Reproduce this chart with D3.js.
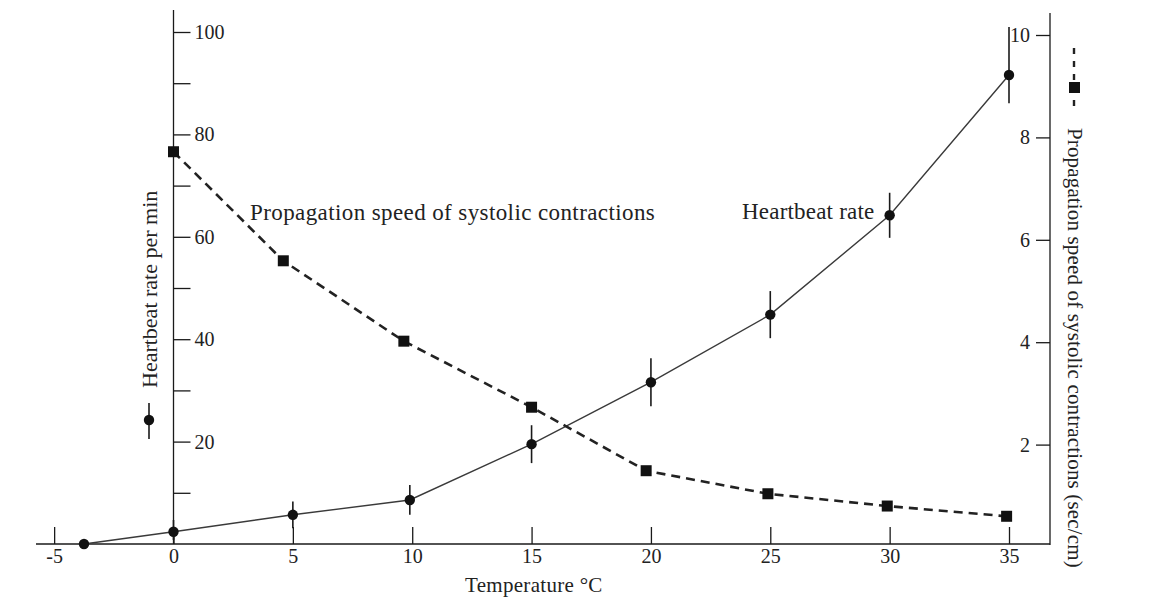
<!DOCTYPE html>
<html><head><meta charset="utf-8">
<script src="https://cdn.jsdelivr.net/npm/d3@7"></script>
<style>body{margin:0;background:#fff}svg{display:block}text{font-family:"Liberation Serif","Times New Roman",serif;fill:#222}</style>
</head><body><svg id="c" width="1161" height="602"></svg>
<script>
// ---- data ----
const hrTemp = [-3.75, 0, 5, 9.9, 15, 20, 25, 30, 35];
const hrRate = [0, 2.4, 5.7, 8.6, 19.5, 31.6, 44.8, 64.2, 91.6];
const hrErrLow = [0, 1.6, 2.6, 2.9, 3.7, 4.7, 4.6, 4.4, 5.5];
const hrErrHigh = [0, 2.3, 2.6, 2.9, 3.7, 4.7, 4.6, 4.4, 9.4];
const psTemp = [0, 4.6, 9.65, 15, 19.8, 24.9, 29.9, 34.9];
const psSpeed = [7.72, 5.59, 4.02, 2.73, 1.49, 1.04, 0.80, 0.60];
const xTicks = [-5, 0, 5, 10, 15, 20, 25, 30, 35];
const leftTicks = [10, 20, 30, 40, 50, 60, 70, 80, 90, 100];
const leftLabels = [20, 40, 60, 80, 100];
const rightTicks = [2, 4, 6, 8, 10];
const xTitle = "Temperature \u00B0C";
const leftTitle = "Heartbeat rate per min";
const rightTitle = "Propagation speed of systolic contractions (sec/cm)";
const psNote = "Propagation speed of systolic contractions";
const hrNote = "Heartbeat rate";

// ---- scales ----
const svg = d3.select("#c");
const x = d3.scaleLinear().domain([0, 35]).range([173.5, 1009]);
const yL = d3.scaleLinear().domain([0, 100]).range([544, 32]);
const yR = d3.scaleLinear().domain([0, 10]).range([547, 35]);
const ink = "#1a1a1a";

// x axis
const xAxis = d3.axisBottom(x).tickValues(xTicks).tickSizeInner(-17).tickSizeOuter(0).tickPadding(5)
  .tickFormat(d => d < 0 ? "-" + Math.abs(d) : String(d));
const gx = svg.append("g").attr("transform", "translate(0,544)").call(xAxis);
gx.select(".domain").remove();
gx.append("line").attr("x1", 36).attr("x2", 1050).attr("stroke", ink).attr("stroke-width", 1.3);
gx.selectAll(".tick line").attr("stroke", ink).attr("stroke-width", 1.3);
gx.selectAll(".tick text").attr("font-size", 20).attr("fill", "#222").style("font-family", "Liberation Serif");

// left axis
const lAxis = d3.axisRight(yL).tickValues(leftTicks).tickSize(17).tickPadding(4)
  .tickFormat(d => leftLabels.includes(d) ? String(d) : "");
const gl = svg.append("g").attr("transform", "translate(173.5,0)").call(lAxis);
gl.select(".domain").remove();
gl.append("line").attr("y1", 10).attr("y2", 544).attr("stroke", ink).attr("stroke-width", 1.3);
gl.selectAll(".tick line").attr("stroke", ink).attr("stroke-width", 1.3);
gl.selectAll(".tick text").attr("font-size", 20).attr("fill", "#222").style("font-family", "Liberation Serif");

// right axis
const rAxis = d3.axisLeft(yR).tickValues(rightTicks).tickSize(14).tickPadding(6);
const gr = svg.append("g").attr("transform", "translate(1050,0)").call(rAxis);
gr.select(".domain").remove();
gr.append("line").attr("y1", 13).attr("y2", 545).attr("stroke", ink).attr("stroke-width", 1.3);
gr.selectAll(".tick line").attr("stroke", ink).attr("stroke-width", 1.3);
gr.selectAll(".tick text").attr("font-size", 20).attr("fill", "#222").style("font-family", "Liberation Serif");

// heartbeat series
const hr = hrTemp.map((t, i) => ({t, v: hrRate[i], lo: hrErrLow[i], hi: hrErrHigh[i]}));
svg.append("path").datum(hr)
  .attr("d", d3.line().x(d => x(d.t)).y(d => yL(d.v)))
  .attr("fill", "none").attr("stroke", "#3a3a3a").attr("stroke-width", 1.4);
svg.append("g").selectAll("line").data(hr.filter(d => d.lo + d.hi > 0)).join("line")
  .attr("x1", d => x(d.t)).attr("x2", d => x(d.t))
  .attr("y1", d => yL(d.v + d.hi)).attr("y2", d => yL(d.v - d.lo))
  .attr("stroke", ink).attr("stroke-width", 1.6);
svg.append("g").selectAll("circle").data(hr).join("circle")
  .attr("cx", d => x(d.t)).attr("cy", d => yL(d.v)).attr("r", 5.2).attr("fill", "#111");

// propagation series
const ps = psTemp.map((t, i) => ({t, v: psSpeed[i]}));
svg.append("path").datum(ps)
  .attr("d", d3.line().x(d => x(d.t)).y(d => yR(d.v)))
  .attr("fill", "none").attr("stroke", "#222").attr("stroke-width", 2.6).attr("stroke-dasharray", "9,6");
svg.append("g").selectAll("rect").data(ps).join("rect")
  .attr("x", d => x(d.t) - 5.5).attr("y", d => yR(d.v) - 5.5).attr("width", 11).attr("height", 11).attr("fill", "#111");

// annotations
svg.append("text").attr("x", 250).attr("y", 220).attr("font-size", 23).attr("letter-spacing", 0.4).text(psNote);
svg.append("text").attr("x", 742).attr("y", 219).attr("font-size", 23).attr("letter-spacing", 0.2).text(hrNote);
svg.append("text").attr("x", 465).attr("y", 592).attr("font-size", 21).attr("letter-spacing", 0.3).text(xTitle);

// left title + legend symbol
svg.append("text").attr("transform", "translate(157,388) rotate(-90)").attr("font-size", 22).text(leftTitle);
svg.append("line").attr("x1", 149).attr("x2", 149).attr("y1", 403).attr("y2", 439).attr("stroke", ink).attr("stroke-width", 1.6);
svg.append("circle").attr("cx", 149).attr("cy", 420).attr("r", 5.2).attr("fill", "#111");

// right title + legend symbol
svg.append("text").attr("transform", "translate(1068,128) rotate(90)").attr("font-size", 21).attr("letter-spacing", 0.15).text(rightTitle);
svg.append("line").attr("x1", 1074).attr("x2", 1074).attr("y1", 48).attr("y2", 113)
  .attr("stroke", "#222").attr("stroke-width", 2.4).attr("stroke-dasharray", "6,7");
svg.append("rect").attr("x", 1069).attr("y", 82).attr("width", 11).attr("height", 11).attr("fill", "#111");
</script></body></html>
